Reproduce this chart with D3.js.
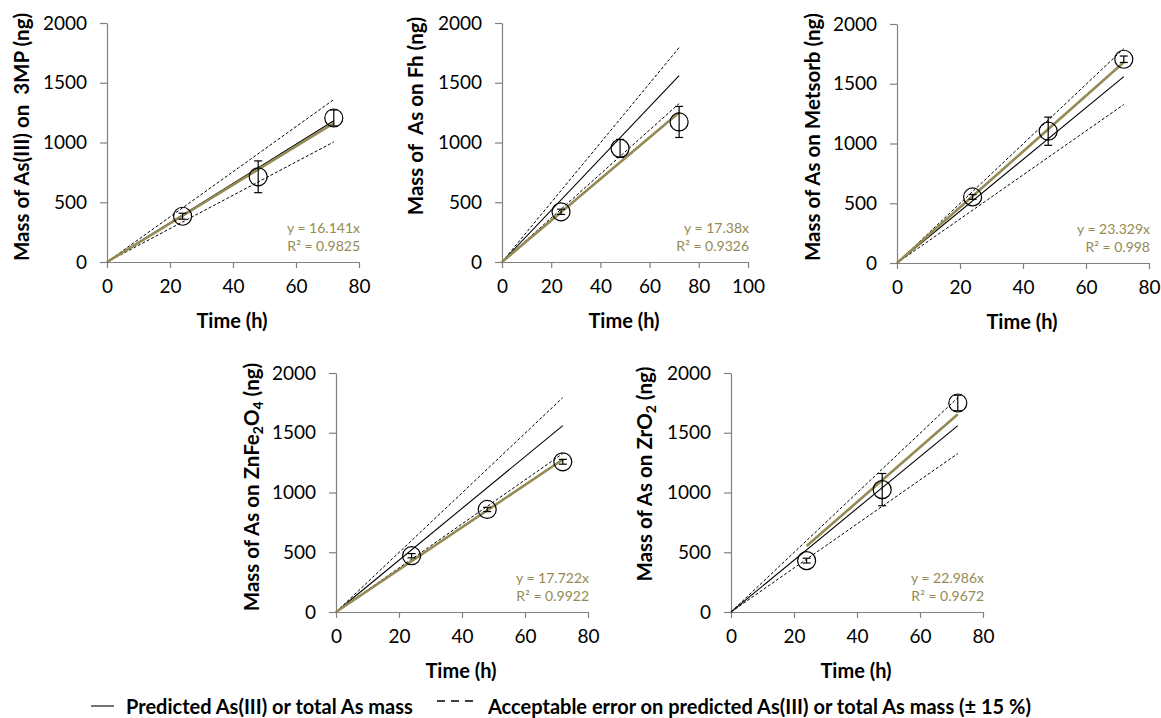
<!DOCTYPE html>
<html><head><meta charset="utf-8">
<script src="https://cdn.jsdelivr.net/npm/d3@7"></script>
<style>
body{margin:0;background:#fff;}
svg{display:block;font-family:Lato,"Open Sans",sans-serif;}
svg text{white-space:pre;}
</style></head><body>
<svg id="c" width="1161" height="718"></svg>
<script>
// ---- data ----
const times = [24, 48, 72];
const yTicks = [0, 500, 1000, 1500, 2000];
const xTicks80 = [0, 20, 40, 60, 80];
const xTicks100 = [0, 20, 40, 60, 80, 100];

const labels3MP = "Mass of As(III) on  3MP (ng)";
const mean3MP = [383, 713, 1205];
const err3MP = [25, 133, 67];
const pred3MP = 1182;         // predicted mass at 72 h
const slope3MP = 16.141, r2_3MP = "0.9825";

const meanFh = [420, 951, 1172];
const errFh = [22, 75, 130];
const predFh = 1560;
const slopeFh = 17.38, r2Fh = "0.9326";

const meanMet = [553, 1103, 1705];
const errMet = [20, 118, 27];
const predMet = 1560;
const slopeMet = 23.329, r2Met = "0.998";

const meanZn = [471, 858, 1257];
const errZn = [18, 18, 20];
const predZn = 1560;
const slopeZn = 17.722, r2Zn = "0.9922";

const meanZr = [430, 1024, 1749];
const errZr = [20, 135, 65];
const predZr = 1560;
const slopeZr = 22.986, r2Zr = "0.9672";

const tolerance = 0.15;
const legendLabels = ["Predicted As(III) or total As mass", "Acceptable error on predicted As(III) or total As mass (\u00b1 15 %)"];

const olive = "#948a54";

// ---- layout ----
const panels = [
  {title:[{t:labels3MP}], mean:mean3MP, err:err3MP, pred:pred3MP, slope:slope3MP, r2:r2_3MP, fitStart:0,
   xTicks:xTicks80, xmax:80, L:107, R:359, T:23, B:262, tx:22, ty:137},
  {title:[{t:"Mass of  As on Fh (ng)"}], mean:meanFh, err:errFh, pred:predFh, slope:slopeFh, r2:r2Fh, fitStart:0,
   xTicks:xTicks100, xmax:100, L:502, R:748, T:23, B:262, tx:416, ty:116},
  {title:[{t:"Mass of As on Metsorb (ng)"}], mean:meanMet, err:errMet, pred:predMet, slope:slopeMet, r2:r2Met, fitStart:0,
   xTicks:xTicks80, xmax:80, L:897, R:1149, T:24, B:263, tx:813, ty:137},
  {title:[{t:"Mass of As on ZnFe"},{t:"2",sub:true},{t:"O"},{t:"4",sub:true},{t:" (ng)"}], mean:meanZn, err:errZn, pred:predZn, slope:slopeZn, r2:r2Zn, fitStart:0,
   xTicks:xTicks80, xmax:80, L:336, R:588, T:373, B:612, tx:252, ty:487},
  {title:[{t:"Mass of As on ZrO"},{t:"2",sub:true},{t:" (ng)"}], mean:meanZr, err:errZr, pred:predZr, slope:slopeZr, r2:r2Zr, fitStart:24,
   xTicks:xTicks80, xmax:80, L:731, R:983, T:373, B:612, tx:645, ty:474}
];

const svg = d3.select("#c");
const fmt = d3.format("d");

panels.forEach(p => {
  const x = d3.scaleLinear().domain([0, p.xmax]).range([p.L, p.R]);
  const y = d3.scaleLinear().domain([0, 2000]).range([p.B, p.T]);
  const g = svg.append("g");

  // axes
  const xa = g.append("g").attr("transform", `translate(0,${p.B})`)
    .call(d3.axisBottom(x).tickValues(p.xTicks).tickFormat(fmt).tickSize(6).tickPadding(7).tickSizeOuter(0));
  const ya = g.append("g").attr("transform", `translate(${p.L},0)`)
    .call(d3.axisLeft(y).tickValues(yTicks).tickFormat(fmt).tickSize(7).tickPadding(13).tickSizeOuter(0));
  [xa, ya].forEach(a => {
    a.select(".domain").attr("stroke", "#808080").attr("stroke-width", 1.2);
    a.selectAll(".tick line").attr("stroke", "#808080").attr("stroke-width", 1.2);
    a.selectAll(".tick text").attr("fill", "#000").style("font-size", "19px").style("font-family", "Lato, sans-serif");
  });
  xa.selectAll(".tick text").attr("dy", "0.95em");

  // axis titles
  g.append("text").attr("x", (p.L + p.R) / 2 - 1).attr("y", p.B + 66)
    .attr("text-anchor", "middle").style("font-size", "20px").style("font-weight", "bold")
    .text("Time (h)");
  const yt = g.append("text").attr("transform", `translate(${p.tx},${p.ty}) rotate(-90)`)
    .attr("text-anchor", "middle").attr("dy", "0.35em").style("font-size", "20.5px").style("font-weight", "bold");
  p.title.forEach(s => {
    const ts = yt.append("tspan").text(s.t);
    if (s.sub) ts.attr("baseline-shift", "-25%").style("font-size", "14px");
  });

  const tEnd = times[times.length - 1];
  const line = d3.line().x(d => x(d[0])).y(d => y(d[1]));
  const predSlope = p.pred / tEnd;
  // dashed tolerance lines
  [1 + tolerance, 1 - tolerance].forEach(f => {
    g.append("path").attr("d", line([[0, 0], [tEnd, predSlope * f * tEnd]]))
      .attr("stroke", "#000").attr("stroke-width", 1).attr("stroke-dasharray", "3,2").attr("fill", "none");
  });
  // predicted line
  g.append("path").attr("d", line([[0, 0], [tEnd, p.pred]]))
    .attr("stroke", "#000").attr("stroke-width", 1.1).attr("fill", "none");
  // fitted trendline
  g.append("path").attr("d", line([[p.fitStart, p.slope * p.fitStart], [tEnd, p.slope * tEnd]]))
    .attr("stroke", olive).attr("stroke-width", 2.6).attr("fill", "none");

  // error bars
  times.forEach((t, i) => {
    const cx = x(t), y1 = y(p.mean[i] + p.err[i]), y2 = y(p.mean[i] - p.err[i]);
    g.append("line").attr("x1", cx).attr("x2", cx).attr("y1", y1).attr("y2", y2).attr("stroke", "#000").attr("stroke-width", 1.2);
    [y1, y2].forEach(yy => g.append("line").attr("x1", cx - 4).attr("x2", cx + 4).attr("y1", yy).attr("y2", yy).attr("stroke", "#000").attr("stroke-width", 1.2));
  });
  // markers
  g.selectAll("circle.pt").data(times).join("circle").attr("class", "pt")
    .attr("cx", d => x(d)).attr("cy", (d, i) => y(p.mean[i])).attr("r", 9)
    .attr("fill", "none").attr("stroke", "#000").attr("stroke-width", 1.2);

  // equation
  const ex = p.R + 1, ey = p.B - 29;
  g.append("text").attr("x", ex).attr("y", ey).attr("text-anchor", "end")
    .attr("fill", olive).style("font-size", "14px").text(`y = ${p.slope}x`);
  g.append("text").attr("x", ex).attr("y", ey + 18).attr("text-anchor", "end")
    .attr("fill", olive).style("font-size", "14px").text(`R\u00b2 = ${p.r2}`);
});

// legend
const lg = svg.append("g");
lg.append("line").attr("x1", 91).attr("x2", 114).attr("y1", 706).attr("y2", 706).attr("stroke", "#000").attr("stroke-width", 1.1);
lg.append("text").attr("x", 126).attr("y", 714).style("font-size", "20px").style("font-weight", "bold").text(legendLabels[0]);
lg.append("line").attr("x1", 437).attr("x2", 474).attr("y1", 701).attr("y2", 701).attr("stroke", "#000").attr("stroke-width", 1.3).attr("stroke-dasharray", "8,6");
lg.append("text").attr("x", 488).attr("y", 714).style("font-size", "20px").style("font-weight", "bold").text(legendLabels[1]);
</script>
</body></html>
